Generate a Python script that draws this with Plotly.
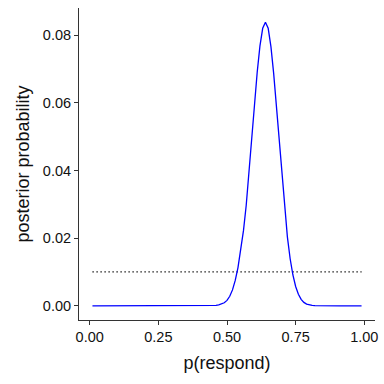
import plotly.graph_objects as go

# grid of p values 0.01..0.99
p_grid = [round(0.01 * i, 2) for i in range(1, 100)]

# posterior values (nonzero region 0.44..0.83)
posterior_nonzero = {
    0.44: 0.00003, 0.45: 0.00006, 0.46: 0.00012, 0.47: 0.00025, 0.48: 0.0005,
    0.49: 0.0009, 0.50: 0.0016, 0.51: 0.0028, 0.52: 0.0047, 0.53: 0.0075,
    0.54: 0.0113, 0.55: 0.0162, 0.56: 0.0222, 0.57: 0.0297, 0.58: 0.0388,
    0.59: 0.0488, 0.60: 0.0592, 0.61: 0.0690, 0.62: 0.0768, 0.63: 0.0820,
    0.64: 0.0838, 0.65: 0.0820, 0.66: 0.0766, 0.67: 0.0686, 0.68: 0.0586,
    0.69: 0.0480, 0.70: 0.0376, 0.71: 0.0282, 0.72: 0.0203, 0.73: 0.0139,
    0.74: 0.0091, 0.75: 0.0057, 0.76: 0.0034, 0.77: 0.0019, 0.78: 0.0010,
    0.79: 0.0005, 0.80: 0.00025, 0.81: 0.00012, 0.82: 0.00005, 0.83: 0.00002,
}
posterior = [posterior_nonzero.get(p, 0.0) for p in p_grid]

prior = [0.01 for _ in p_grid]

x_ticks = [0.0, 0.25, 0.5, 0.75, 1.0]
x_tick_labels = ["0.00", "0.25", "0.50", "0.75", "1.00"]
y_ticks = [0.0, 0.02, 0.04, 0.06, 0.08]
y_tick_labels = ["0.00", "0.02", "0.04", "0.06", "0.08"]

fig = go.Figure()
fig.add_trace(go.Scatter(x=p_grid, y=prior, mode="lines",
                         line=dict(color="#000000", width=1.3, dash="1.3px,2.7px"),
                         showlegend=False))
fig.add_trace(go.Scatter(x=p_grid, y=posterior, mode="lines",
                         line=dict(color="#0000ff", width=1.3),
                         showlegend=False))

font = "Liberation Sans, Arial, Helvetica, sans-serif"
axis_common = dict(showgrid=False, zeroline=False, showline=True,
                   linecolor="#333333", linewidth=1.1, ticks="outside",
                   ticklen=4, tickwidth=1.1, tickcolor="#333333",
                   tickfont=dict(family=font, size=14.5, color="#111111"),
                   mirror=False)

fig.update_layout(
    width=384, height=384,
    margin=dict(l=79, r=9, t=8, b=64),
    plot_bgcolor="white", paper_bgcolor="white",
    xaxis=dict(range=[-0.039, 1.039], tickvals=x_ticks, ticktext=x_tick_labels,
               title=dict(text="p(respond)", font=dict(family=font, size=18, color="#111111"),
                          standoff=11),
               automargin=False, **axis_common),
    yaxis=dict(range=[-0.0042, 0.088], tickvals=y_ticks, ticktext=y_tick_labels,
               title=dict(text="posterior probability", font=dict(family=font, size=18, color="#111111"),
                          standoff=8),
               automargin=False, **axis_common),
)

fig.write_html("out.html")
